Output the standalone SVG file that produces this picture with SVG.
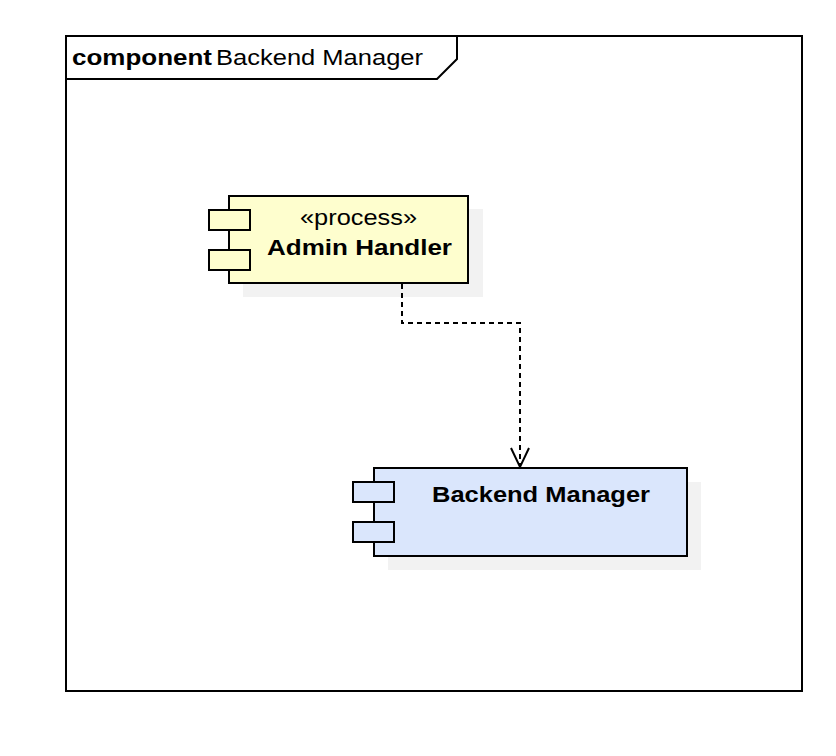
<svg xmlns="http://www.w3.org/2000/svg" width="836" height="756" viewBox="0 0 836 756">
<style>
text{font-family:"Liberation Sans",Arial,sans-serif;font-size:22px;fill:#000}
.b{font-weight:bold}
.shadow{fill:#f2f2f2;stroke:none}
.box{stroke:#000;stroke-width:2}
.yel{fill:#fefece}
.blu{fill:#dae6fc}
.edge{fill:none;stroke:#000;stroke-width:2}
</style>
<rect width="836" height="756" fill="#fff"/>
<g id="frame">
<rect x="66" y="36" width="736" height="655" fill="none" stroke="#000" stroke-width="2"/>
<path d="M66,79 H437 L457,59 V36" fill="none" stroke="#000" stroke-width="2"/>
<text x="72" y="65" class="b" textLength="140" lengthAdjust="spacingAndGlyphs">component</text>
<text x="216" y="65" textLength="207" lengthAdjust="spacingAndGlyphs">Backend Manager</text>
</g>
<g id="admin-handler">
<rect class="shadow" x="243" y="209" width="240" height="88"/>
<rect class="box yel" x="229" y="196" width="239" height="87"/>
<rect class="box yel" x="209" y="210" width="41" height="20"/>
<rect class="box yel" x="209" y="250" width="41" height="20"/>
<text x="300" y="225" textLength="117" lengthAdjust="spacingAndGlyphs">«process»</text>
<text x="267" y="255" class="b" textLength="185" lengthAdjust="spacingAndGlyphs">Admin Handler</text>
</g>
<g id="backend-manager">
<rect class="shadow" x="388" y="482" width="313" height="88"/>
<rect class="box blu" x="374" y="468" width="313" height="88"/>
<rect class="box blu" x="353" y="482" width="41" height="20"/>
<rect class="box blu" x="353" y="522" width="41" height="20"/>
<text x="432" y="502" class="b" textLength="218" lengthAdjust="spacingAndGlyphs">Backend Manager</text>
</g>
<g id="connectors">
<path class="edge" d="M402,284 V323 H520 V466" stroke-dasharray="5,4" stroke-width="1.8"/>
<path class="edge" d="M511,448 L520,467 L529,448" stroke-width="1.8"/>
</g>
</svg>
